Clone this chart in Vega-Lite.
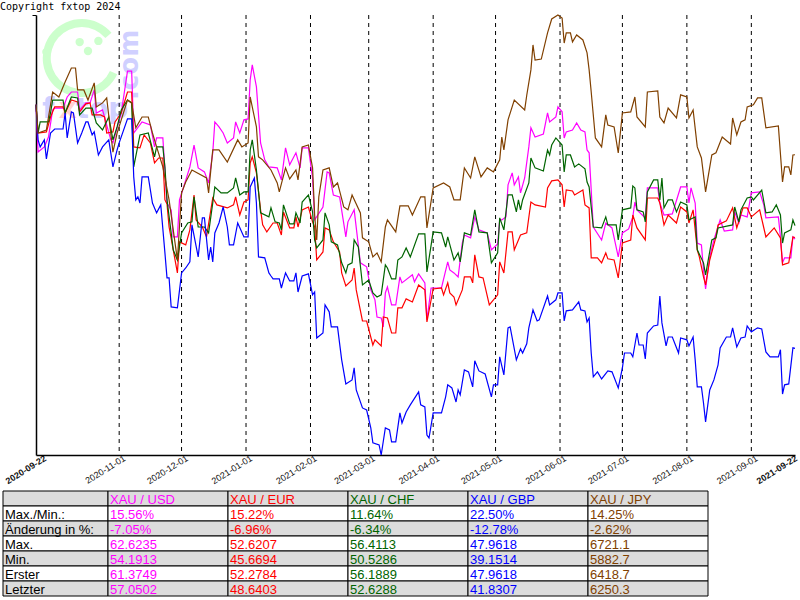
{"$schema":"https://vega.github.io/schema/vega-lite/v6.json","padding":{"left":0,"top":1,"right":0,"bottom":0},"background":"white","spacing":4,"config":{"view":{"stroke":null},"font":"Liberation Sans"},
"datasets":{
"USD":[{"d":"2020-09-22","v":100},{"d":"2020-09-23","v":97.52},{"d":"2020-09-26","v":97.79},{"d":"2020-09-28","v":98.31},{"d":"2020-09-30","v":99.73},{"d":"2020-10-01","v":99.83},{"d":"2020-10-05","v":99.83},{"d":"2020-10-07","v":100.41},{"d":"2020-10-09","v":100.67},{"d":"2020-10-12","v":100.67},{"d":"2020-10-13","v":99.73},{"d":"2020-10-16","v":100.1},{"d":"2020-10-18","v":100.1},{"d":"2020-10-20","v":100.78},{"d":"2020-10-21","v":99.57},{"d":"2020-10-24","v":99.73},{"d":"2020-10-28","v":98.15},{"d":"2020-10-29","v":98},{"d":"2020-10-31","v":98.79},{"d":"2020-11-02","v":99.57},{"d":"2020-11-05","v":101.77},{"d":"2020-11-07","v":101.77},{"d":"2020-11-08","v":98.52},{"d":"2020-11-12","v":99.1},{"d":"2020-11-16","v":98.94},{"d":"2020-11-18","v":97.79},{"d":"2020-11-19","v":98.26},{"d":"2020-11-22","v":98.26},{"d":"2020-11-23","v":96.58},{"d":"2020-11-24","v":94.85},{"d":"2020-11-26","v":94.49},{"d":"2020-11-27","v":93.07},{"d":"2020-11-29","v":93.07},{"d":"2020-11-30","v":95.01},{"d":"2020-12-02","v":95.69},{"d":"2020-12-05","v":96.74},{"d":"2020-12-07","v":97.89},{"d":"2020-12-09","v":96.69},{"d":"2020-12-12","v":96.48},{"d":"2020-12-14","v":95.9},{"d":"2020-12-16","v":97.48},{"d":"2020-12-17","v":99.1},{"d":"2020-12-19","v":98.84},{"d":"2020-12-21","v":98.52},{"d":"2020-12-23","v":98},{"d":"2020-12-26","v":98.26},{"d":"2020-12-27","v":99.1},{"d":"2020-12-29","v":98.52},{"d":"2020-12-31","v":99.21},{"d":"2021-01-02","v":99.26},{"d":"2021-01-03","v":101.3},{"d":"2021-01-04","v":102.09},{"d":"2021-01-06","v":100.94},{"d":"2021-01-08","v":98},{"d":"2021-01-10","v":97.11},{"d":"2021-01-12","v":96.74},{"d":"2021-01-16","v":96.69},{"d":"2021-01-18","v":96.06},{"d":"2021-01-20","v":97.74},{"d":"2021-01-22","v":96.85},{"d":"2021-01-25","v":97.48},{"d":"2021-01-27","v":96.69},{"d":"2021-01-28","v":97.74},{"d":"2021-01-31","v":97.74},{"d":"2021-02-02","v":96.16},{"d":"2021-02-03","v":93.96},{"d":"2021-02-07","v":94.64},{"d":"2021-02-09","v":96.48},{"d":"2021-02-10","v":96.43},{"d":"2021-02-12","v":95.27},{"d":"2021-02-15","v":95.17},{"d":"2021-02-18","v":93.07},{"d":"2021-02-19","v":93.86},{"d":"2021-02-22","v":94.49},{"d":"2021-02-25","v":91.71},{"d":"2021-02-28","v":91.5},{"d":"2021-03-02","v":90.29},{"d":"2021-03-04","v":89.77},{"d":"2021-03-05","v":88.87},{"d":"2021-03-07","v":88.82},{"d":"2021-03-08","v":88.35},{"d":"2021-03-09","v":90.13},{"d":"2021-03-10","v":90.45},{"d":"2021-03-12","v":89.5},{"d":"2021-03-14","v":89.5},{"d":"2021-03-16","v":90.97},{"d":"2021-03-17","v":90.66},{"d":"2021-03-22","v":91.08},{"d":"2021-03-23","v":90.71},{"d":"2021-03-25","v":91.13},{"d":"2021-03-28","v":90.66},{"d":"2021-03-29","v":88.72},{"d":"2021-03-31","v":90.39},{"d":"2021-04-05","v":90.39},{"d":"2021-04-08","v":91.76},{"d":"2021-04-09","v":91.34},{"d":"2021-04-11","v":91.18},{"d":"2021-04-13","v":90.97},{"d":"2021-04-15","v":92.75},{"d":"2021-04-16","v":93.17},{"d":"2021-04-19","v":93.02},{"d":"2021-04-21","v":94.12},{"d":"2021-04-23","v":93.44},{"d":"2021-04-27","v":93.28},{"d":"2021-04-29","v":92.39},{"d":"2021-05-02","v":92.7},{"d":"2021-05-03","v":93.96},{"d":"2021-05-04","v":93.96},{"d":"2021-05-06","v":94.12},{"d":"2021-05-07","v":95.8},{"d":"2021-05-09","v":96.43},{"d":"2021-05-10","v":95.8},{"d":"2021-05-12","v":96.22},{"d":"2021-05-13","v":95.38},{"d":"2021-05-15","v":96.16},{"d":"2021-05-17","v":97.79},{"d":"2021-05-18","v":98.79},{"d":"2021-05-20","v":98.31},{"d":"2021-05-24","v":98.47},{"d":"2021-05-26","v":99.57},{"d":"2021-05-27","v":99.1},{"d":"2021-05-30","v":99.36},{"d":"2021-05-31","v":99.89},{"d":"2021-06-02","v":99.63},{"d":"2021-06-03","v":98.26},{"d":"2021-06-04","v":98.58},{"d":"2021-06-07","v":98.68},{"d":"2021-06-09","v":99.05},{"d":"2021-06-11","v":98.68},{"d":"2021-06-13","v":98.58},{"d":"2021-06-14","v":97.63},{"d":"2021-06-15","v":97.48},{"d":"2021-06-17","v":93.59},{"d":"2021-06-21","v":92.91},{"d":"2021-06-23","v":93.8},{"d":"2021-06-26","v":93.54},{"d":"2021-06-29","v":92.02},{"d":"2021-07-01","v":93.28},{"d":"2021-07-04","v":93.49},{"d":"2021-07-06","v":94.12},{"d":"2021-07-07","v":94.9},{"d":"2021-07-08","v":94.49},{"d":"2021-07-12","v":94.07},{"d":"2021-07-13","v":95.64},{"d":"2021-07-18","v":95.64},{"d":"2021-07-19","v":94.85},{"d":"2021-07-21","v":94.22},{"d":"2021-07-25","v":94.28},{"d":"2021-07-29","v":95.69},{"d":"2021-08-01","v":95.69},{"d":"2021-08-02","v":94.85},{"d":"2021-08-03","v":95.64},{"d":"2021-08-05","v":94.85},{"d":"2021-08-06","v":92.75},{"d":"2021-08-08","v":92.65},{"d":"2021-08-09","v":91.34},{"d":"2021-08-10","v":90.34},{"d":"2021-08-12","v":92.02},{"d":"2021-08-14","v":92.91},{"d":"2021-08-17","v":93.96},{"d":"2021-08-19","v":93.38},{"d":"2021-08-23","v":93.44},{"d":"2021-08-24","v":94.38},{"d":"2021-08-26","v":93.8},{"d":"2021-08-27","v":94.22},{"d":"2021-08-30","v":94.12},{"d":"2021-09-01","v":95.38},{"d":"2021-09-05","v":95.43},{"d":"2021-09-07","v":94.75},{"d":"2021-09-08","v":94.07},{"d":"2021-09-14","v":94.12},{"d":"2021-09-15","v":93.07},{"d":"2021-09-16","v":91.71},{"d":"2021-09-17","v":91.97},{"d":"2021-09-20","v":91.97},{"d":"2021-09-21","v":93.07},{"d":"2021-09-22","v":92.95}],
"EUR":[{"d":"2020-09-22","v":100},{"d":"2020-09-23","v":98.52},{"d":"2020-09-27","v":98.58},{"d":"2020-09-29","v":99.36},{"d":"2020-10-01","v":99.89},{"d":"2020-10-05","v":99.89},{"d":"2020-10-06","v":99.57},{"d":"2020-10-09","v":100.25},{"d":"2020-10-12","v":100.15},{"d":"2020-10-13","v":99.63},{"d":"2020-10-16","v":100.05},{"d":"2020-10-18","v":100.1},{"d":"2020-10-19","v":99.47},{"d":"2020-10-23","v":99.47},{"d":"2020-10-25","v":99.36},{"d":"2020-10-26","v":98.52},{"d":"2020-10-29","v":98.58},{"d":"2020-10-30","v":99.1},{"d":"2020-11-02","v":99.57},{"d":"2020-11-05","v":100.67},{"d":"2020-11-07","v":100.67},{"d":"2020-11-08","v":97.79},{"d":"2020-11-11","v":97.74},{"d":"2020-11-13","v":98.42},{"d":"2020-11-16","v":98},{"d":"2020-11-18","v":96.95},{"d":"2020-11-20","v":97.21},{"d":"2020-11-22","v":97.21},{"d":"2020-11-23","v":95.01},{"d":"2020-11-24","v":94.8},{"d":"2020-11-25","v":93.59},{"d":"2020-11-29","v":91.18},{"d":"2020-11-30","v":92.81},{"d":"2020-12-03","v":92.65},{"d":"2020-12-05","v":93.44},{"d":"2020-12-07","v":95.27},{"d":"2020-12-08","v":93.96},{"d":"2020-12-11","v":93.59},{"d":"2020-12-13","v":93.07},{"d":"2020-12-16","v":95.11},{"d":"2020-12-18","v":94.75},{"d":"2020-12-23","v":94.59},{"d":"2020-12-26","v":94.75},{"d":"2020-12-27","v":95.17},{"d":"2020-12-29","v":94.22},{"d":"2020-12-31","v":94.9},{"d":"2021-01-02","v":95.01},{"d":"2021-01-03","v":96.95},{"d":"2021-01-04","v":97.27},{"d":"2021-01-06","v":96.43},{"d":"2021-01-08","v":94.49},{"d":"2021-01-09","v":93.7},{"d":"2021-01-11","v":93.33},{"d":"2021-01-14","v":93.8},{"d":"2021-01-16","v":93.8},{"d":"2021-01-18","v":93.17},{"d":"2021-01-19","v":94.38},{"d":"2021-01-22","v":93.54},{"d":"2021-01-24","v":93.54},{"d":"2021-01-25","v":94.12},{"d":"2021-01-26","v":93.59},{"d":"2021-01-28","v":94.49},{"d":"2021-01-31","v":94.64},{"d":"2021-02-02","v":93.86},{"d":"2021-02-03","v":93.59},{"d":"2021-02-04","v":91.86},{"d":"2021-02-07","v":92.28},{"d":"2021-02-08","v":93.54},{"d":"2021-02-10","v":93.44},{"d":"2021-02-12","v":92.81},{"d":"2021-02-15","v":92.28},{"d":"2021-02-16","v":91.18},{"d":"2021-02-18","v":90.5},{"d":"2021-02-21","v":90.81},{"d":"2021-02-22","v":91.44},{"d":"2021-02-23","v":90.29},{"d":"2021-02-26","v":88.66},{"d":"2021-02-28","v":88.66},{"d":"2021-03-03","v":87.4},{"d":"2021-03-04","v":87.67},{"d":"2021-03-07","v":87.35},{"d":"2021-03-08","v":88.87},{"d":"2021-03-10","v":88.82},{"d":"2021-03-12","v":88.03},{"d":"2021-03-14","v":88.03},{"d":"2021-03-15","v":89.35},{"d":"2021-03-17","v":89.35},{"d":"2021-03-19","v":89.82},{"d":"2021-03-22","v":89.66},{"d":"2021-03-25","v":90.55},{"d":"2021-03-28","v":90.29},{"d":"2021-03-29","v":88.61},{"d":"2021-04-01","v":90.34},{"d":"2021-04-05","v":90.39},{"d":"2021-04-06","v":90.03},{"d":"2021-04-08","v":90.66},{"d":"2021-04-09","v":90.13},{"d":"2021-04-11","v":89.92},{"d":"2021-04-12","v":89.5},{"d":"2021-04-15","v":90.29},{"d":"2021-04-16","v":90.97},{"d":"2021-04-19","v":90.97},{"d":"2021-04-20","v":90.66},{"d":"2021-04-21","v":92.13},{"d":"2021-04-23","v":90.97},{"d":"2021-04-25","v":90.92},{"d":"2021-04-28","v":89.5},{"d":"2021-05-02","v":90.03},{"d":"2021-05-03","v":91.76},{"d":"2021-05-05","v":91.18},{"d":"2021-05-07","v":93.33},{"d":"2021-05-09","v":93.33},{"d":"2021-05-10","v":92.39},{"d":"2021-05-13","v":93.17},{"d":"2021-05-16","v":93.28},{"d":"2021-05-18","v":94.9},{"d":"2021-05-20","v":94.75},{"d":"2021-05-25","v":94.64},{"d":"2021-05-26","v":95.64},{"d":"2021-05-28","v":96.01},{"d":"2021-05-31","v":96.06},{"d":"2021-06-02","v":95.8},{"d":"2021-06-03","v":94.64},{"d":"2021-06-04","v":95.53},{"d":"2021-06-07","v":95.48},{"d":"2021-06-08","v":95.27},{"d":"2021-06-12","v":95.53},{"d":"2021-06-13","v":94.75},{"d":"2021-06-15","v":94.59},{"d":"2021-06-16","v":91.97},{"d":"2021-06-19","v":91.97},{"d":"2021-06-21","v":91.71},{"d":"2021-06-23","v":92.23},{"d":"2021-06-24","v":91.92},{"d":"2021-06-27","v":91.86},{"d":"2021-06-29","v":90.92},{"d":"2021-07-01","v":92.75},{"d":"2021-07-05","v":92.91},{"d":"2021-07-06","v":94.22},{"d":"2021-07-08","v":93.54},{"d":"2021-07-12","v":92.91},{"d":"2021-07-13","v":95.11},{"d":"2021-07-18","v":95.11},{"d":"2021-07-19","v":94.85},{"d":"2021-07-21","v":93.7},{"d":"2021-07-23","v":94.22},{"d":"2021-07-27","v":93.8},{"d":"2021-07-29","v":94.64},{"d":"2021-08-01","v":94.38},{"d":"2021-08-02","v":93.8},{"d":"2021-08-04","v":94.49},{"d":"2021-08-06","v":92.39},{"d":"2021-08-07","v":92.02},{"d":"2021-08-09","v":90.97},{"d":"2021-08-10","v":90.55},{"d":"2021-08-12","v":91.86},{"d":"2021-08-15","v":93.07},{"d":"2021-08-16","v":93.7},{"d":"2021-08-20","v":93.91},{"d":"2021-08-23","v":94.59},{"d":"2021-08-25","v":93.54},{"d":"2021-08-28","v":94.59},{"d":"2021-08-30","v":94.59},{"d":"2021-09-01","v":94.12},{"d":"2021-09-05","v":94.49},{"d":"2021-09-08","v":93.07},{"d":"2021-09-12","v":93.54},{"d":"2021-09-15","v":93.02},{"d":"2021-09-16","v":91.6},{"d":"2021-09-19","v":91.71},{"d":"2021-09-21","v":93.07},{"d":"2021-09-22","v":93.04}],
"CHF":[{"d":"2020-09-22","v":100},{"d":"2020-09-23","v":98.52},{"d":"2020-09-24","v":99.1},{"d":"2020-09-28","v":99.1},{"d":"2020-09-29","v":99.57},{"d":"2020-09-30","v":100.25},{"d":"2020-10-05","v":100.25},{"d":"2020-10-06","v":99.57},{"d":"2020-10-09","v":100.41},{"d":"2020-10-12","v":100.36},{"d":"2020-10-13","v":99.47},{"d":"2020-10-16","v":99.83},{"d":"2020-10-19","v":99.83},{"d":"2020-10-21","v":99.05},{"d":"2020-10-24","v":98.68},{"d":"2020-10-27","v":99.36},{"d":"2020-10-29","v":98.16},{"d":"2020-10-31","v":98.84},{"d":"2020-11-02","v":99.73},{"d":"2020-11-05","v":100.25},{"d":"2020-11-07","v":100.1},{"d":"2020-11-08","v":96.74},{"d":"2020-11-11","v":98.42},{"d":"2020-11-15","v":98.52},{"d":"2020-11-18","v":97.27},{"d":"2020-11-19","v":97.79},{"d":"2020-11-22","v":97.79},{"d":"2020-11-23","v":96.74},{"d":"2020-11-24","v":95.01},{"d":"2020-11-26","v":93.28},{"d":"2020-11-27","v":92.39},{"d":"2020-11-29","v":91.86},{"d":"2020-12-01","v":93.28},{"d":"2020-12-04","v":93.8},{"d":"2020-12-06","v":93.86},{"d":"2020-12-07","v":95.17},{"d":"2020-12-09","v":93.59},{"d":"2020-12-12","v":93.59},{"d":"2020-12-14","v":93.28},{"d":"2020-12-16","v":94.85},{"d":"2020-12-17","v":95.69},{"d":"2020-12-20","v":95.38},{"d":"2020-12-23","v":95.38},{"d":"2020-12-26","v":95.64},{"d":"2020-12-27","v":96.16},{"d":"2020-12-29","v":95.27},{"d":"2020-12-31","v":95.43},{"d":"2021-01-02","v":95.43},{"d":"2021-01-03","v":97.63},{"d":"2021-01-04","v":98.16},{"d":"2021-01-06","v":96.58},{"d":"2021-01-08","v":94.33},{"d":"2021-01-12","v":94.12},{"d":"2021-01-13","v":94.59},{"d":"2021-01-15","v":93.86},{"d":"2021-01-17","v":93.8},{"d":"2021-01-18","v":93.44},{"d":"2021-01-19","v":94.75},{"d":"2021-01-22","v":93.75},{"d":"2021-01-24","v":93.75},{"d":"2021-01-25","v":94.33},{"d":"2021-01-27","v":93.8},{"d":"2021-01-28","v":94.9},{"d":"2021-01-31","v":95.27},{"d":"2021-02-02","v":94.38},{"d":"2021-02-03","v":92.91},{"d":"2021-02-04","v":92.49},{"d":"2021-02-07","v":92.91},{"d":"2021-02-08","v":94.33},{"d":"2021-02-10","v":93.7},{"d":"2021-02-11","v":92.81},{"d":"2021-02-14","v":92.65},{"d":"2021-02-16","v":91.71},{"d":"2021-02-18","v":91.18},{"d":"2021-02-19","v":91.6},{"d":"2021-02-21","v":91.71},{"d":"2021-02-22","v":92.91},{"d":"2021-02-24","v":92.54},{"d":"2021-02-26","v":90.55},{"d":"2021-03-01","v":90.81},{"d":"2021-03-03","v":90.13},{"d":"2021-03-05","v":89.92},{"d":"2021-03-07","v":90.03},{"d":"2021-03-09","v":91.6},{"d":"2021-03-10","v":91.44},{"d":"2021-03-12","v":90.87},{"d":"2021-03-14","v":90.87},{"d":"2021-03-15","v":91.86},{"d":"2021-03-17","v":92.02},{"d":"2021-03-19","v":92.49},{"d":"2021-03-21","v":92.02},{"d":"2021-03-25","v":93.23},{"d":"2021-03-28","v":93.23},{"d":"2021-03-29","v":91.23},{"d":"2021-04-01","v":93.33},{"d":"2021-04-05","v":93.28},{"d":"2021-04-07","v":92.54},{"d":"2021-04-08","v":93.07},{"d":"2021-04-11","v":91.86},{"d":"2021-04-13","v":92.23},{"d":"2021-04-14","v":91.76},{"d":"2021-04-16","v":93.28},{"d":"2021-04-19","v":93.17},{"d":"2021-04-21","v":94.49},{"d":"2021-04-23","v":93.33},{"d":"2021-04-27","v":93.28},{"d":"2021-04-29","v":91.71},{"d":"2021-05-02","v":92.23},{"d":"2021-05-03","v":94.07},{"d":"2021-05-05","v":93.44},{"d":"2021-05-07","v":95.27},{"d":"2021-05-09","v":95.27},{"d":"2021-05-11","v":94.38},{"d":"2021-05-12","v":95.01},{"d":"2021-05-13","v":94.49},{"d":"2021-05-14","v":95.01},{"d":"2021-05-17","v":95.9},{"d":"2021-05-18","v":97.21},{"d":"2021-05-20","v":96.69},{"d":"2021-05-24","v":96.53},{"d":"2021-05-26","v":97.63},{"d":"2021-05-27","v":97.37},{"d":"2021-05-28","v":97.89},{"d":"2021-05-30","v":98.26},{"d":"2021-06-02","v":97.89},{"d":"2021-06-03","v":96.48},{"d":"2021-06-04","v":97.37},{"d":"2021-06-06","v":97.37},{"d":"2021-06-08","v":96.74},{"d":"2021-06-10","v":96.9},{"d":"2021-06-13","v":96.64},{"d":"2021-06-14","v":95.95},{"d":"2021-06-15","v":95.69},{"d":"2021-06-17","v":93.59},{"d":"2021-06-21","v":93.54},{"d":"2021-06-23","v":94.12},{"d":"2021-06-24","v":93.7},{"d":"2021-06-28","v":93.7},{"d":"2021-06-29","v":92.91},{"d":"2021-07-01","v":94.49},{"d":"2021-07-05","v":94.59},{"d":"2021-07-06","v":95.74},{"d":"2021-07-07","v":95.64},{"d":"2021-07-08","v":94.49},{"d":"2021-07-11","v":94.38},{"d":"2021-07-12","v":93.86},{"d":"2021-07-13","v":95.43},{"d":"2021-07-16","v":96.06},{"d":"2021-07-18","v":96.06},{"d":"2021-07-19","v":95.01},{"d":"2021-07-20","v":96.16},{"d":"2021-07-21","v":94.59},{"d":"2021-07-23","v":95.01},{"d":"2021-07-25","v":95.01},{"d":"2021-07-27","v":94.38},{"d":"2021-07-29","v":94.9},{"d":"2021-08-01","v":94.75},{"d":"2021-08-02","v":93.96},{"d":"2021-08-05","v":94.12},{"d":"2021-08-06","v":92.39},{"d":"2021-08-09","v":91.71},{"d":"2021-08-10","v":91.08},{"d":"2021-08-13","v":92.91},{"d":"2021-08-15","v":93.02},{"d":"2021-08-16","v":93.54},{"d":"2021-08-23","v":93.7},{"d":"2021-08-24","v":94.64},{"d":"2021-08-26","v":93.86},{"d":"2021-08-27","v":94.49},{"d":"2021-08-30","v":95.11},{"d":"2021-09-01","v":95.17},{"d":"2021-09-02","v":95.01},{"d":"2021-09-06","v":95.53},{"d":"2021-09-08","v":94.33},{"d":"2021-09-11","v":94.38},{"d":"2021-09-13","v":94.75},{"d":"2021-09-15","v":94.22},{"d":"2021-09-16","v":92.75},{"d":"2021-09-17","v":93.28},{"d":"2021-09-20","v":93.44},{"d":"2021-09-21","v":93.96},{"d":"2021-09-22","v":93.66}],
"GBP":[{"d":"2020-09-22","v":100},{"d":"2020-09-23","v":98.16},{"d":"2020-09-24","v":97.79},{"d":"2020-09-26","v":98.16},{"d":"2020-09-27","v":97.16},{"d":"2020-09-29","v":98.52},{"d":"2020-10-01","v":98.73},{"d":"2020-10-05","v":98.73},{"d":"2020-10-06","v":99.57},{"d":"2020-10-07","v":98.26},{"d":"2020-10-09","v":99.63},{"d":"2020-10-10","v":99.57},{"d":"2020-10-12","v":98},{"d":"2020-10-14","v":98.52},{"d":"2020-10-16","v":99.1},{"d":"2020-10-17","v":99.1},{"d":"2020-10-19","v":98.42},{"d":"2020-10-20","v":98.58},{"d":"2020-10-22","v":97.37},{"d":"2020-10-24","v":97.79},{"d":"2020-10-27","v":98.16},{"d":"2020-10-29","v":96.74},{"d":"2020-10-31","v":97.63},{"d":"2020-11-01","v":98},{"d":"2020-11-05","v":99.26},{"d":"2020-11-07","v":99.26},{"d":"2020-11-08","v":96.22},{"d":"2020-11-09","v":95.01},{"d":"2020-11-10","v":95.17},{"d":"2020-11-11","v":94.85},{"d":"2020-11-12","v":96.22},{"d":"2020-11-15","v":96.22},{"d":"2020-11-17","v":94.85},{"d":"2020-11-19","v":94.33},{"d":"2020-11-21","v":94.75},{"d":"2020-11-23","v":92.23},{"d":"2020-11-24","v":90.92},{"d":"2020-11-25","v":90.92},{"d":"2020-11-26","v":89.4},{"d":"2020-11-29","v":89.35},{"d":"2020-12-01","v":91.18},{"d":"2020-12-03","v":91.44},{"d":"2020-12-05","v":91.76},{"d":"2020-12-06","v":93.7},{"d":"2020-12-09","v":92.02},{"d":"2020-12-11","v":94.07},{"d":"2020-12-12","v":94.07},{"d":"2020-12-14","v":91.86},{"d":"2020-12-15","v":92.54},{"d":"2020-12-16","v":91.76},{"d":"2020-12-17","v":93.28},{"d":"2020-12-19","v":93.8},{"d":"2020-12-21","v":94.64},{"d":"2020-12-23","v":93.59},{"d":"2020-12-24","v":92.65},{"d":"2020-12-26","v":92.65},{"d":"2020-12-28","v":93.8},{"d":"2020-12-31","v":93.07},{"d":"2021-01-02","v":93.07},{"d":"2021-01-03","v":95.69},{"d":"2021-01-05","v":96.16},{"d":"2021-01-06","v":94.85},{"d":"2021-01-07","v":92.02},{"d":"2021-01-10","v":91.97},{"d":"2021-01-12","v":91.18},{"d":"2021-01-13","v":91.02},{"d":"2021-01-14","v":90.87},{"d":"2021-01-17","v":90.87},{"d":"2021-01-18","v":90.39},{"d":"2021-01-20","v":91.18},{"d":"2021-01-22","v":90.76},{"d":"2021-01-24","v":90.76},{"d":"2021-01-25","v":91.18},{"d":"2021-01-26","v":90.18},{"d":"2021-01-28","v":91.02},{"d":"2021-01-31","v":91.13},{"d":"2021-02-02","v":90.03},{"d":"2021-02-03","v":90.18},{"d":"2021-02-04","v":87.77},{"d":"2021-02-07","v":88.03},{"d":"2021-02-08","v":89.5},{"d":"2021-02-10","v":89.14},{"d":"2021-02-11","v":88.35},{"d":"2021-02-14","v":88.35},{"d":"2021-02-16","v":86.62},{"d":"2021-02-18","v":85.36},{"d":"2021-02-21","v":85.57},{"d":"2021-02-22","v":86.2},{"d":"2021-02-23","v":85.04},{"d":"2021-02-26","v":84.1},{"d":"2021-02-28","v":83.99},{"d":"2021-03-02","v":83.05},{"d":"2021-03-03","v":82.27},{"d":"2021-03-06","v":82.16},{"d":"2021-03-07","v":81.63},{"d":"2021-03-09","v":83.05},{"d":"2021-03-11","v":82.95},{"d":"2021-03-12","v":82.32},{"d":"2021-03-14","v":82.32},{"d":"2021-03-16","v":83.84},{"d":"2021-03-17","v":83.31},{"d":"2021-03-19","v":83.89},{"d":"2021-03-21","v":84.26},{"d":"2021-03-25","v":84.94},{"d":"2021-03-26","v":84.26},{"d":"2021-03-28","v":84.15},{"d":"2021-03-29","v":82.68},{"d":"2021-03-30","v":82.52},{"d":"2021-04-01","v":83.84},{"d":"2021-04-05","v":83.84},{"d":"2021-04-07","v":84.68},{"d":"2021-04-08","v":85.31},{"d":"2021-04-10","v":85.15},{"d":"2021-04-12","v":84.41},{"d":"2021-04-13","v":85.04},{"d":"2021-04-14","v":84.78},{"d":"2021-04-16","v":86.09},{"d":"2021-04-18","v":85.99},{"d":"2021-04-20","v":85.2},{"d":"2021-04-21","v":86.57},{"d":"2021-04-23","v":86.04},{"d":"2021-04-26","v":85.88},{"d":"2021-04-29","v":84.68},{"d":"2021-04-30","v":85.31},{"d":"2021-05-02","v":85.31},{"d":"2021-05-03","v":86.78},{"d":"2021-05-05","v":85.83},{"d":"2021-05-07","v":88.3},{"d":"2021-05-08","v":88.35},{"d":"2021-05-11","v":86.62},{"d":"2021-05-13","v":87.2},{"d":"2021-05-14","v":86.98},{"d":"2021-05-16","v":87.46},{"d":"2021-05-17","v":88.3},{"d":"2021-05-19","v":89.24},{"d":"2021-05-21","v":88.66},{"d":"2021-05-22","v":88.72},{"d":"2021-05-26","v":89.97},{"d":"2021-05-27","v":89.5},{"d":"2021-05-30","v":89.77},{"d":"2021-05-31","v":90.13},{"d":"2021-06-02","v":90.13},{"d":"2021-06-03","v":88.66},{"d":"2021-06-04","v":89.19},{"d":"2021-06-07","v":89.24},{"d":"2021-06-10","v":89.66},{"d":"2021-06-11","v":89.24},{"d":"2021-06-13","v":89.19},{"d":"2021-06-14","v":88.61},{"d":"2021-06-15","v":88.82},{"d":"2021-06-16","v":86.98},{"d":"2021-06-17","v":85.73},{"d":"2021-06-19","v":85.99},{"d":"2021-06-21","v":85.62},{"d":"2021-06-24","v":86.04},{"d":"2021-06-26","v":85.99},{"d":"2021-06-29","v":85.15},{"d":"2021-07-01","v":86.2},{"d":"2021-07-02","v":86.98},{"d":"2021-07-05","v":86.98},{"d":"2021-07-06","v":86.78},{"d":"2021-07-08","v":88.03},{"d":"2021-07-09","v":87.4},{"d":"2021-07-11","v":87.4},{"d":"2021-07-12","v":86.67},{"d":"2021-07-13","v":88.03},{"d":"2021-07-16","v":88.4},{"d":"2021-07-18","v":88.45},{"d":"2021-07-19","v":89.97},{"d":"2021-07-20","v":88.56},{"d":"2021-07-22","v":87.35},{"d":"2021-07-23","v":87.82},{"d":"2021-07-25","v":87.82},{"d":"2021-07-28","v":86.98},{"d":"2021-07-29","v":87.77},{"d":"2021-08-01","v":87.67},{"d":"2021-08-02","v":87.35},{"d":"2021-08-04","v":87.82},{"d":"2021-08-05","v":86.62},{"d":"2021-08-06","v":85.2},{"d":"2021-08-08","v":85.2},{"d":"2021-08-09","v":84.36},{"d":"2021-08-10","v":83.37},{"d":"2021-08-12","v":85.04},{"d":"2021-08-14","v":85.57},{"d":"2021-08-16","v":86.36},{"d":"2021-08-17","v":87.25},{"d":"2021-08-20","v":87.82},{"d":"2021-08-22","v":87.82},{"d":"2021-08-23","v":88.3},{"d":"2021-08-25","v":87.3},{"d":"2021-08-27","v":87.77},{"d":"2021-08-29","v":87.82},{"d":"2021-08-30","v":88.4},{"d":"2021-09-01","v":88.09},{"d":"2021-09-04","v":88.3},{"d":"2021-09-06","v":88.24},{"d":"2021-09-08","v":87.04},{"d":"2021-09-10","v":86.78},{"d":"2021-09-14","v":86.78},{"d":"2021-09-15","v":87.15},{"d":"2021-09-16","v":84.83},{"d":"2021-09-17","v":85.31},{"d":"2021-09-19","v":85.36},{"d":"2021-09-21","v":87.25},{"d":"2021-09-22","v":87.22}],
"JPY":[{"d":"2020-09-22","v":100},{"d":"2020-09-23","v":98.52},{"d":"2020-09-27","v":98.68},{"d":"2020-09-30","v":100.67},{"d":"2020-10-03","v":100.41},{"d":"2020-10-06","v":101.2},{"d":"2020-10-09","v":101.93},{"d":"2020-10-11","v":101.93},{"d":"2020-10-12","v":100.78},{"d":"2020-10-15","v":100.78},{"d":"2020-10-17","v":100.25},{"d":"2020-10-20","v":101.15},{"d":"2020-10-21","v":99.89},{"d":"2020-10-24","v":100.1},{"d":"2020-10-26","v":100.36},{"d":"2020-10-29","v":97.52},{"d":"2020-10-31","v":98.52},{"d":"2020-11-02","v":99.21},{"d":"2020-11-05","v":100.25},{"d":"2020-11-07","v":100.1},{"d":"2020-11-09","v":98.79},{"d":"2020-11-12","v":99.36},{"d":"2020-11-15","v":99.36},{"d":"2020-11-17","v":98.52},{"d":"2020-11-19","v":97.79},{"d":"2020-11-22","v":96.74},{"d":"2020-11-25","v":95.01},{"d":"2020-11-29","v":91.86},{"d":"2020-12-01","v":95.38},{"d":"2020-12-03","v":95.95},{"d":"2020-12-06","v":96.58},{"d":"2020-12-13","v":96.16},{"d":"2020-12-14","v":95.38},{"d":"2020-12-16","v":97.63},{"d":"2020-12-19","v":97.63},{"d":"2020-12-23","v":97},{"d":"2020-12-28","v":98.16},{"d":"2020-12-30","v":97.79},{"d":"2021-01-02","v":98},{"d":"2021-01-03","v":100.41},{"d":"2021-01-06","v":98.84},{"d":"2021-01-07","v":97.27},{"d":"2021-01-09","v":97.11},{"d":"2021-01-13","v":96.58},{"d":"2021-01-16","v":95.9},{"d":"2021-01-17","v":95.43},{"d":"2021-01-20","v":96.69},{"d":"2021-01-22","v":96.11},{"d":"2021-01-25","v":96.58},{"d":"2021-01-26","v":96.06},{"d":"2021-01-28","v":97.79},{"d":"2021-01-31","v":97.89},{"d":"2021-02-02","v":96.69},{"d":"2021-02-03","v":94.22},{"d":"2021-02-04","v":92.91},{"d":"2021-02-05","v":95.17},{"d":"2021-02-07","v":96.58},{"d":"2021-02-10","v":96.69},{"d":"2021-02-12","v":95.69},{"d":"2021-02-14","v":95.9},{"d":"2021-02-17","v":94.64},{"d":"2021-02-19","v":94.49},{"d":"2021-02-21","v":95.27},{"d":"2021-02-25","v":94.33},{"d":"2021-02-26","v":93.02},{"d":"2021-03-01","v":92.81},{"d":"2021-03-03","v":92.02},{"d":"2021-03-05","v":92.23},{"d":"2021-03-07","v":91.76},{"d":"2021-03-09","v":93.59},{"d":"2021-03-10","v":93.96},{"d":"2021-03-14","v":93.33},{"d":"2021-03-16","v":94.7},{"d":"2021-03-20","v":94.7},{"d":"2021-03-22","v":94.22},{"d":"2021-03-26","v":95.17},{"d":"2021-03-28","v":95.17},{"d":"2021-03-29","v":93.54},{"d":"2021-04-01","v":95.64},{"d":"2021-04-06","v":95.9},{"d":"2021-04-09","v":95.69},{"d":"2021-04-11","v":95.01},{"d":"2021-04-14","v":95.01},{"d":"2021-04-16","v":96.69},{"d":"2021-04-19","v":96.16},{"d":"2021-04-21","v":97.27},{"d":"2021-04-24","v":96.22},{"d":"2021-04-27","v":96.69},{"d":"2021-04-30","v":96.48},{"d":"2021-05-03","v":97.11},{"d":"2021-05-04","v":98.31},{"d":"2021-05-05","v":97.63},{"d":"2021-05-07","v":99.21},{"d":"2021-05-10","v":100.25},{"d":"2021-05-15","v":99.73},{"d":"2021-05-16","v":100.5},{"d":"2021-05-18","v":101.83},{"d":"2021-05-19","v":103.14},{"d":"2021-05-20","v":102.35},{"d":"2021-05-23","v":102.4},{"d":"2021-05-26","v":103.77},{"d":"2021-05-28","v":104.5},{"d":"2021-05-31","v":104.71},{"d":"2021-06-02","v":104.55},{"d":"2021-06-03","v":103.24},{"d":"2021-06-04","v":103.77},{"d":"2021-06-06","v":103.77},{"d":"2021-06-07","v":103.3},{"d":"2021-06-09","v":103.66},{"d":"2021-06-12","v":103.4},{"d":"2021-06-14","v":102.72},{"d":"2021-06-15","v":101.83},{"d":"2021-06-16","v":100.67},{"d":"2021-06-18","v":98.26},{"d":"2021-06-21","v":97.79},{"d":"2021-06-23","v":99.47},{"d":"2021-06-24","v":98.94},{"d":"2021-06-27","v":98.84},{"d":"2021-06-29","v":97.48},{"d":"2021-07-01","v":99.57},{"d":"2021-07-05","v":99.63},{"d":"2021-07-07","v":100.41},{"d":"2021-07-08","v":99.36},{"d":"2021-07-12","v":98.84},{"d":"2021-07-13","v":100.67},{"d":"2021-07-18","v":100.73},{"d":"2021-07-19","v":99.36},{"d":"2021-07-21","v":99.05},{"d":"2021-07-23","v":99.83},{"d":"2021-07-27","v":99.31},{"d":"2021-07-29","v":100.52},{"d":"2021-08-01","v":100.41},{"d":"2021-08-02","v":99.31},{"d":"2021-08-04","v":99.73},{"d":"2021-08-06","v":97.79},{"d":"2021-08-08","v":97.21},{"d":"2021-08-10","v":95.43},{"d":"2021-08-13","v":97.37},{"d":"2021-08-15","v":97.48},{"d":"2021-08-18","v":98.31},{"d":"2021-08-22","v":97.94},{"d":"2021-08-23","v":99.31},{"d":"2021-08-25","v":98.42},{"d":"2021-08-27","v":99.1},{"d":"2021-08-29","v":99.21},{"d":"2021-08-30","v":99.89},{"d":"2021-09-02","v":100},{"d":"2021-09-04","v":100.36},{"d":"2021-09-06","v":100.36},{"d":"2021-09-08","v":98.79},{"d":"2021-09-14","v":98.89},{"d":"2021-09-16","v":95.95},{"d":"2021-09-17","v":96.74},{"d":"2021-09-19","v":96.74},{"d":"2021-09-20","v":96.32},{"d":"2021-09-21","v":97.37},{"d":"2021-09-22","v":97.38}]
},
"vconcat":[{"width":792,"height":440,"title":{"text":"Copyright fxtop 2024","anchor":"start","frame":"group","font":"DejaVu Sans Mono","fontSize":10,"fontWeight":"normal","color":"#000","offset":1,"dx":-3},"layer":[{"data":{"values":[{"d":"2020-10-14","v":102.45}]},"mark":{"type":"arc","innerRadius":31,"outerRadius":39,"theta":2.0,"theta2":7.15,"color":"#CCFFCC"},"encoding":{"x":{"field":"d","type":"temporal","scale":{"type":"utc","domain":["2020-09-22","2021-09-22"],"range":[33,792],"nice":false},"axis":{"values":["2020-09-22","2020-11-01","2020-12-01","2021-01-01","2021-02-01","2021-03-01","2021-04-01","2021-05-01","2021-06-01","2021-07-01","2021-08-01","2021-09-01","2021-09-22"],"labelExpr":"utcFormat(datum.value,'%Y-%m-%d')","title":null,"grid":false,"ticks":false,"domainColor":"#000","domainWidth":1.5,"labelAngle":-32,"labelAlign":"right","labelBaseline":"middle","labelPadding":2,"labelOffset":{"condition":[{"test":"utcyear(datum.value)==2021&&utcdate(datum.value)==22","value":1},{"test":"utcyear(datum.value)==2020&&utcdate(datum.value)==22","value":9}],"value":5},"labelFontSize":9,"labelColor":"#111","labelOverlap":false,"labelFlush":false,"labelFontWeight":{"condition":{"test":"utcdate(datum.value)==22","value":"bold"},"value":"normal"}}},"y":{"field":"v","type":"quantitative","scale":{"domain":[81.63,104.71],"nice":false,"zero":false},"axis":{"offset":-33,"values":[104.71],"labels":false,"title":null,"grid":false,"tickSize":4,"tickColor":"#000","domainColor":"#000","domainWidth":1.5}}}},{"data":{"values":[{"d":"2020-10-13","v":103.29},{"d":"2020-10-22","v":103.35},{"d":"2020-10-17","v":102.82},{"d":"2020-09-27","v":102.77}]},"mark":{"type":"point","filled":true,"size":70,"color":"#CCFFCC","opacity":1},"encoding":{"x":{"field":"d","type":"temporal"},"y":{"field":"v","type":"quantitative"}}},{"data":{"values":[{"d":"2020-09-25","v":99.3,"t":"f"},{"d":"2020-10-11","v":99.3,"t":"top"}]},"mark":{"type":"text","font":"DejaVu Sans","fontWeight":"bold","fontSize":28,"align":"left","baseline":"alphabetic","color":"#D0D0FF"},"encoding":{"x":{"field":"d","type":"temporal"},"y":{"field":"v","type":"quantitative"},"text":{"field":"t"}}},{"data":{"values":[{"d":"2020-10-03","v":99.3,"t":"x"}]},"mark":{"type":"text","font":"DejaVu Sans","fontWeight":"bold","fontSize":28,"align":"left","baseline":"alphabetic","color":"#FFD0D0"},"encoding":{"x":{"field":"d","type":"temporal"},"y":{"field":"v","type":"quantitative"},"text":{"field":"t"}}},{"data":{"values":[{"d":"2020-11-10","v":100.25,"t":".com"}]},"mark":{"type":"text","font":"DejaVu Sans","fontWeight":"bold","fontSize":26,"align":"left","baseline":"alphabetic","angle":270,"color":"#D0D0FF"},"encoding":{"x":{"field":"d","type":"temporal"},"y":{"field":"v","type":"quantitative"},"text":{"field":"t"}}},{"data":{"values":[{"d":"2020-11-01"},{"d":"2020-12-01"},{"d":"2021-01-01"},{"d":"2021-02-01"},{"d":"2021-03-01"},{"d":"2021-04-01"},{"d":"2021-05-01"},{"d":"2021-06-01"},{"d":"2021-07-01"},{"d":"2021-08-01"},{"d":"2021-09-01"}]},"mark":{"type":"rule","color":"#000","strokeWidth":1,"strokeDash":[4,4]},"encoding":{"x":{"field":"d","type":"temporal"}}},{"data":{"name":"USD"},"mark":{"type":"line","strokeWidth":1.2,"color":"#FF00FF"},"encoding":{"x":{"field":"d","type":"temporal"},"y":{"field":"v","type":"quantitative"}}},{"data":{"name":"EUR"},"mark":{"type":"line","strokeWidth":1.2,"color":"#FF0000"},"encoding":{"x":{"field":"d","type":"temporal"},"y":{"field":"v","type":"quantitative"}}},{"data":{"name":"CHF"},"mark":{"type":"line","strokeWidth":1.2,"color":"#006400"},"encoding":{"x":{"field":"d","type":"temporal"},"y":{"field":"v","type":"quantitative"}}},{"data":{"name":"GBP"},"mark":{"type":"line","strokeWidth":1.2,"color":"#0000FF"},"encoding":{"x":{"field":"d","type":"temporal"},"y":{"field":"v","type":"quantitative"}}},{"data":{"name":"JPY"},"mark":{"type":"line","strokeWidth":1.2,"color":"#804000"},"encoding":{"x":{"field":"d","type":"temporal"},"y":{"field":"v","type":"quantitative"}}}]},{"width":705,"height":105,"data":{"values":[{"row":"head","c":0,"e":1,"t":""},{"row":"head","c":1,"e":2,"t":"XAU / USD"},{"row":"head","c":2,"e":3,"t":"XAU / EUR"},{"row":"head","c":3,"e":4,"t":"XAU / CHF"},{"row":"head","c":4,"e":5,"t":"XAU / GBP"},{"row":"head","c":5,"e":6,"t":"XAU / JPY"},{"row":"maxmin","c":0,"e":1,"t":"Max./Min.:"},{"row":"maxmin","c":1,"e":2,"t":"15.56%"},{"row":"maxmin","c":2,"e":3,"t":"15.22%"},{"row":"maxmin","c":3,"e":4,"t":"11.64%"},{"row":"maxmin","c":4,"e":5,"t":"22.50%"},{"row":"maxmin","c":5,"e":6,"t":"14.25%"},{"row":"chg","c":0,"e":1,"t":"Änderung in %:"},{"row":"chg","c":1,"e":2,"t":"-7.05%"},{"row":"chg","c":2,"e":3,"t":"-6.96%"},{"row":"chg","c":3,"e":4,"t":"-6.34%"},{"row":"chg","c":4,"e":5,"t":"-12.78%"},{"row":"chg","c":5,"e":6,"t":"-2.62%"},{"row":"max","c":0,"e":1,"t":"Max."},{"row":"max","c":1,"e":2,"t":"62.6235"},{"row":"max","c":2,"e":3,"t":"52.6207"},{"row":"max","c":3,"e":4,"t":"56.4113"},{"row":"max","c":4,"e":5,"t":"47.9618"},{"row":"max","c":5,"e":6,"t":"6721.1"},{"row":"min","c":0,"e":1,"t":"Min."},{"row":"min","c":1,"e":2,"t":"54.1913"},{"row":"min","c":2,"e":3,"t":"45.6694"},{"row":"min","c":3,"e":4,"t":"50.5286"},{"row":"min","c":4,"e":5,"t":"39.1514"},{"row":"min","c":5,"e":6,"t":"5882.7"},{"row":"first","c":0,"e":1,"t":"Erster"},{"row":"first","c":1,"e":2,"t":"61.3749"},{"row":"first","c":2,"e":3,"t":"52.2784"},{"row":"first","c":3,"e":4,"t":"56.1889"},{"row":"first","c":4,"e":5,"t":"47.9618"},{"row":"first","c":5,"e":6,"t":"6418.7"},{"row":"last","c":0,"e":1,"t":"Letzter"},{"row":"last","c":1,"e":2,"t":"57.0502"},{"row":"last","c":2,"e":3,"t":"48.6403"},{"row":"last","c":3,"e":4,"t":"52.6288"},{"row":"last","c":4,"e":5,"t":"41.8307"},{"row":"last","c":5,"e":6,"t":"6250.3"}]},"encoding":{"x":{"field":"c","type":"quantitative","scale":{"domain":[0,1,6],"range":[0,105,705],"nice":false,"zero":false},"axis":null},"y":{"field":"row","type":"nominal","sort":["head","maxmin","chg","max","min","first","last"],"scale":{"paddingInner":0,"paddingOuter":0},"axis":null}},"layer":[{"mark":{"type":"rect","stroke":"#000","strokeWidth":1},"encoding":{"x2":{"field":"e"},"fill":{"field":"row","type":"nominal","scale":{"domain":["head","maxmin","chg","max","min","first","last"],"range":["#DCDCDC","#FFFFFF","#DCDCDC","#FFFFFF","#DCDCDC","#FFFFFF","#DCDCDC"]},"legend":null}}},{"mark":{"type":"text","align":"left","baseline":"middle","dx":2,"dy":1,"fontSize":13,"font":"Liberation Sans"},"encoding":{"text":{"field":"t"},"color":{"field":"c","type":"nominal","scale":{"domain":[0,1,2,3,4,5],"range":["#000000","#FF00FF","#FF0000","#006400","#0000FF","#804000"]},"legend":null}}}]}]}
